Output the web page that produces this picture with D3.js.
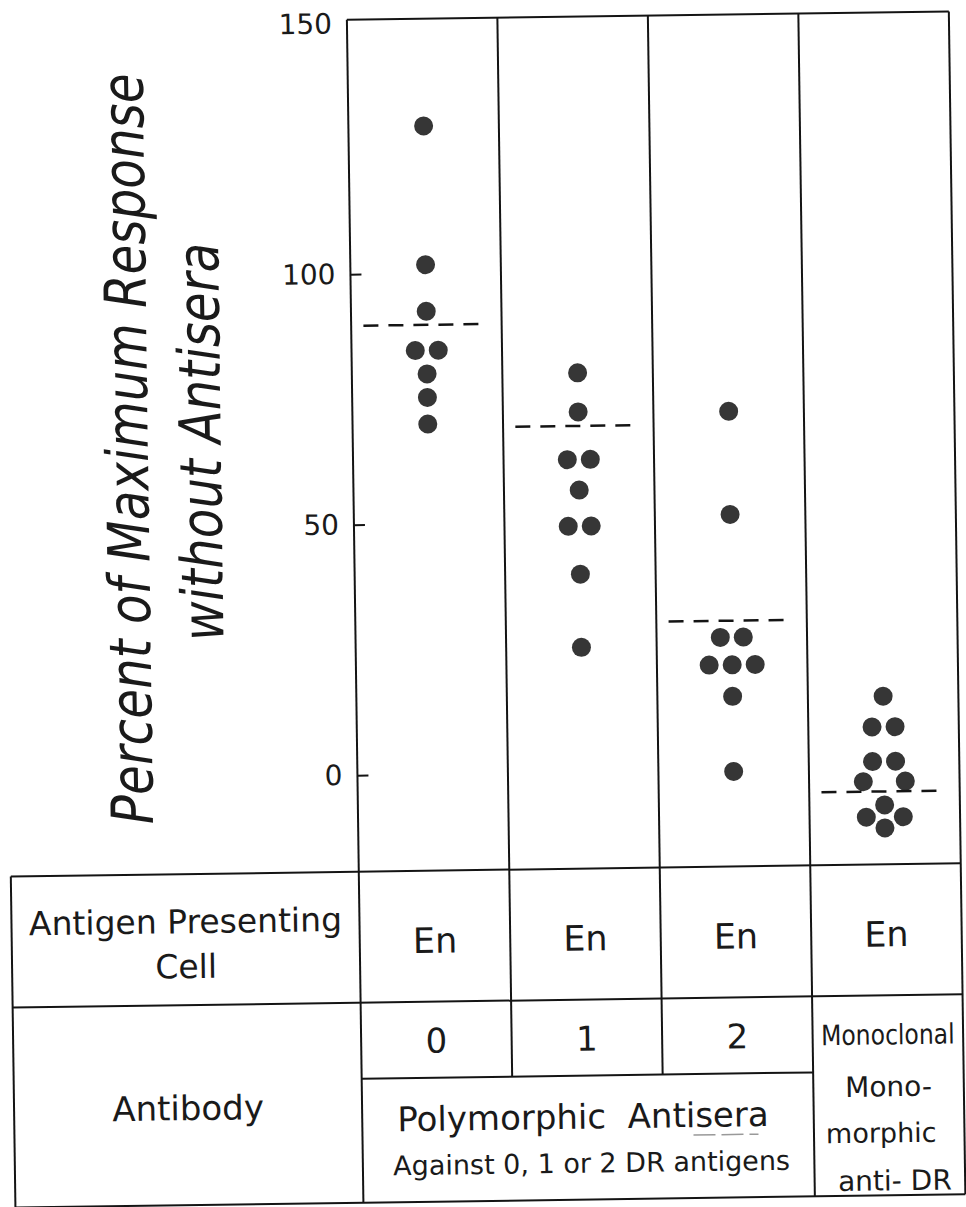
<!DOCTYPE html>
<html>
<head>
<meta charset="utf-8">
<script src="https://cdn.jsdelivr.net/npm/d3@7"></script>
<style>
  body { margin: 0; background: #fff; }
  text { font-family: "DejaVu Sans", "Liberation Sans", sans-serif; fill: #1a1a1a; }
</style>
</head>
<body>
<div id="chart"></div>
<script>
// values (percent of max response)
var columns = [0, 1, 2, 3];
var values0 = [129.4, 101.7, 92.4, 84.6, 84.6, 79.9, 75.2, 69.9];
var values1 = [79.7, 71.9, 62.4, 62.4, 56.3, 49.1, 49.1, 39.5, 24.9];
var values2 = [71.6, 51.0, 26.5, 26.5, 21.0, 21.0, 21.0, 14.7, -0.3];
var valuesMono = [14.3, 8.2, 8.2, 1.3, 1.3, -2.7, -2.7, -7.4, -9.8, -9.8, -12.0];
var meanLines = [89.7, 69.1, 29.8, -4.7];
var yTicks = [0, 50, 100, 150];
var cellLabels = ["En", "En", "En", "En"];
var antibodyLabels = ["0", "1", "2"];

var width = 966, height = 1207;
var plotLeft = 355, plotRight = 957, plotTop = 18, plotBottom = 870;
var tableLeft = 7, row1 = 1001, row2 = 1077, tableBottom = 1201;
var r = 9.5;

var svg = d3.select("#chart").append("svg")
    .attr("width", width)
    .attr("height", height);

// the scanned figure sits slightly rotated on the page
var g = svg.append("g")
    .attr("transform", "rotate(-0.8,480,600)");

var x = d3.scaleBand()
    .domain(columns)
    .range([plotLeft, plotRight]);

var y = d3.scaleLinear()
    .domain([0, 150])
    .range([773.5, 22]);

var bw = x.bandwidth();

function line(x1, y1, x2, y2) {
  return g.append("line")
    .attr("x1", x1).attr("y1", y1)
    .attr("x2", x2).attr("y2", y2)
    .attr("stroke", "#141414")
    .attr("stroke-width", 2);
}

// plot frame + column dividers
line(plotLeft, plotTop, plotRight, plotTop);
line(plotRight, plotTop, plotRight, tableBottom);
line(plotLeft, plotTop, plotLeft, tableBottom);
line(x(1), plotTop, x(1), row2);
line(x(2), plotTop, x(2), row2);
line(x(3), plotTop, x(3), tableBottom);

// table
line(tableLeft, plotBottom, plotRight, plotBottom);
line(tableLeft, row1, plotRight, row1);
line(plotLeft, row2, x(3), row2);
line(tableLeft, tableBottom, plotRight, tableBottom);
line(tableLeft, plotBottom, tableLeft, tableBottom);

// y axis
var axis = g.append("g")
    .attr("transform", "translate(" + plotLeft + ",0)")
    .call(d3.axisLeft(y).tickValues(yTicks).tickSize(-11).tickPadding(15).tickFormat(d3.format("d")));
axis.select(".domain").remove();
axis.selectAll(".tick line").attr("stroke", "#141414").attr("stroke-width", 2);
axis.selectAll(".tick").filter(function(d) { return d === 150; }).select("line").remove();
axis.selectAll(".tick text")
    .style("font-size", "28px")
    .style("font-family", "'DejaVu Sans', sans-serif")
    .attr("fill", "#1a1a1a");

// y title (lettering in the figure is narrow, so squeeze it)
g.append("text")
  .attr("transform", "translate(150,444) rotate(-90) scale(0.835,1)")
  .attr("text-anchor", "middle")
  .style("font-size", "58px")
  .style("font-style", "italic")
  .style("font-weight", "200")
  .text("Percent of Maximum Response");

g.append("text")
  .attr("transform", "translate(223,438) rotate(-90) scale(0.835,1)")
  .attr("text-anchor", "middle")
  .style("font-size", "58px")
  .style("font-style", "italic")
  .style("font-weight", "200")
  .text("without Antisera");

// dots, equal values sit side by side
var allValues = [values0, values1, values2, valuesMono];
var dots = [];
allValues.forEach(function(vals, ci) {
  var cx = x(ci) + bw / 2;
  var placed = [];
  var i = 0;
  while (i < vals.length) {
    var n = 1;
    while (i + n < vals.length && vals[i + n] === vals[i]) n++;
    var cy = y(vals[i]);
    var spacing = 23;
    var pts;
    while (true) {
      pts = d3.range(n).map(function(k) { return {x: cx + (k - (n - 1) / 2) * spacing, y: cy}; });
      var hit = n > 1 && pts.some(function(p) {
        return placed.some(function(q) { return Math.hypot(p.x - q.x, p.y - q.y) < 2 * r + 3; });
      });
      if (!hit) break;
      spacing += 1;
    }
    placed = placed.concat(pts);
    i += n;
  }
  dots = dots.concat(placed);
});

g.selectAll(".dot")
  .data(dots)
  .enter().append("circle")
  .attr("class", "dot")
  .attr("cx", function(d) { return d.x; })
  .attr("cy", function(d) { return d.y; })
  .attr("r", r)
  .attr("fill", "#363636");

// dashed lines
g.selectAll(".mean")
  .data(meanLines)
  .enter().append("line")
  .attr("class", "mean")
  .attr("x1", function(d, i) { return x(i) + bw / 2 - 63; })
  .attr("x2", function(d, i) { return x(i) + bw / 2 + 62; })
  .attr("y1", function(d) { return y(d); })
  .attr("y2", function(d) { return y(d); })
  .attr("stroke", "#141414")
  .attr("stroke-width", 2.5)
  .attr("stroke-dasharray", "15,10");

// table text
var leftMid = (tableLeft + plotLeft) / 2;
g.append("text").attr("x", leftMid).attr("y", 929).attr("text-anchor", "middle")
  .style("font-size", "33px").text("Antigen Presenting");
g.append("text").attr("x", leftMid).attr("y", 974).attr("text-anchor", "middle")
  .style("font-size", "33px").text("Cell");
g.append("text").attr("x", leftMid).attr("y", 1116).attr("text-anchor", "middle")
  .style("font-size", "34px").text("Antibody");

g.selectAll(".apc")
  .data(cellLabels)
  .enter().append("text")
  .attr("class", "apc")
  .attr("x", function(d, i) { return x(i) + bw / 2; })
  .attr("y", 952)
  .attr("text-anchor", "middle")
  .style("font-size", "35px")
  .text(function(d) { return d; });

g.selectAll(".ab")
  .data(antibodyLabels)
  .enter().append("text")
  .attr("class", "ab")
  .attr("x", function(d, i) { return x(i) + bw / 2; })
  .attr("y", 1052)
  .attr("text-anchor", "middle")
  .style("font-size", "34px")
  .text(function(d) { return d; });

var polyMid = (plotLeft + x(3)) / 2;
g.append("text").attr("x", polyMid - 5).attr("y", 1130).attr("text-anchor", "middle")
  .style("font-size", "34px").attr("xml:space", "preserve").text("Polymorphic  Antisera");
g.append("line")
  .attr("x1", 686).attr("x2", 751).attr("y1", 1138).attr("y2", 1138)
  .attr("stroke", "#999").attr("stroke-width", 1.5).attr("stroke-dasharray", "22,6");
g.append("text").attr("x", polyMid + 3).attr("y", 1174).attr("text-anchor", "middle")
  .style("font-size", "27px").text("Against 0, 1 or 2 DR antigens");

var monoMid = x(3) + bw / 2;
g.append("text")
  .attr("transform", "translate(" + monoMid + ",1050) scale(0.84,1)")
  .attr("text-anchor", "middle")
  .style("font-size", "28px").text("Monoclonal");
g.append("text").attr("x", monoMid).attr("y", 1102).attr("text-anchor", "middle")
  .style("font-size", "28px").text("Mono-");
g.append("text").attr("x", monoMid - 8).attr("y", 1148).attr("text-anchor", "middle")
  .style("font-size", "27px").text("morphic");
g.append("text").attr("x", monoMid + 5).attr("y", 1196).attr("text-anchor", "middle")
  .style("font-size", "28px").text("anti- DR");
</script>
</body>
</html>
